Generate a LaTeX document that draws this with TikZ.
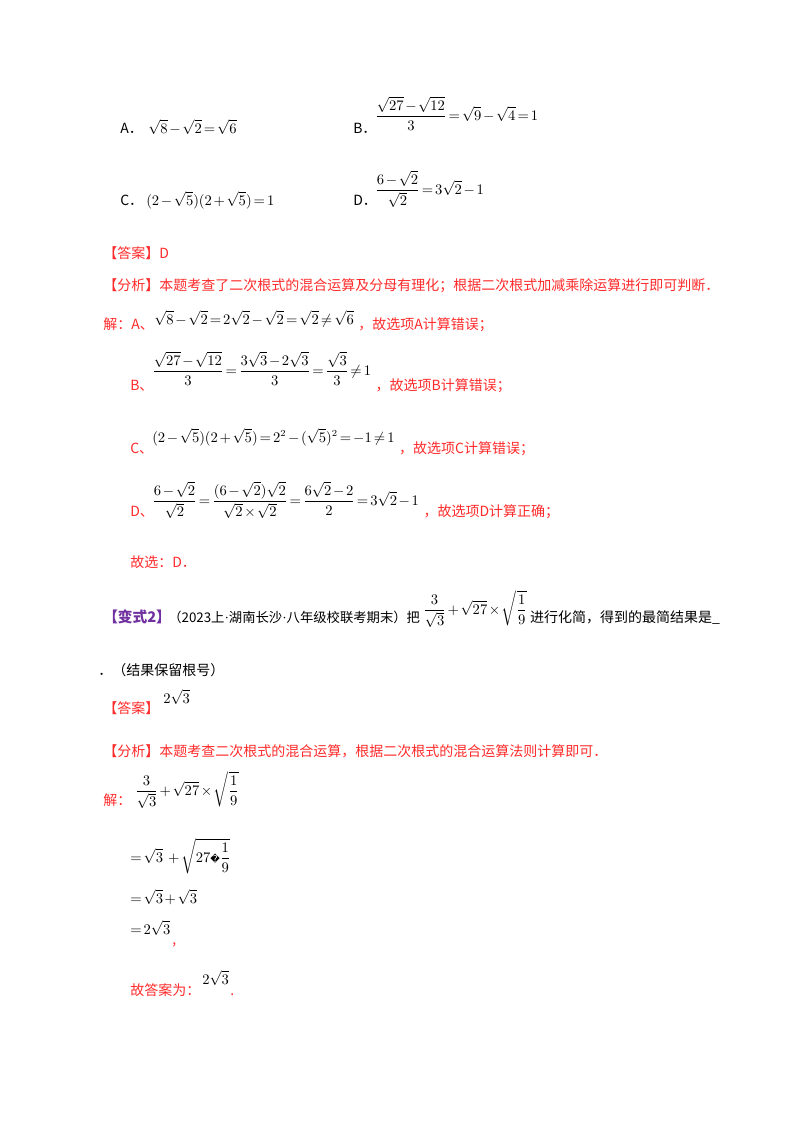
\documentclass[tikz,border=0pt]{standalone}
\usepackage{fontspec}
\setmainfont{Liberation Serif}
\newfontfamily\cjk{Noto Sans CJK SC}
\newfontfamily\dejavu{DejaVu Sans}
\usepackage{amsmath}
\definecolor{rd}{HTML}{FF2A2A}
\definecolor{pu}{HTML}{7030A0}
\medmuskip=2mu \thickmuskip=2.5mu
\begin{document}
\begin{tikzpicture}[x=0.75pt,y=-0.75pt,
  t/.style={anchor=base west,inner sep=0pt,font=\cjk\fontsize{10.5}{12}\selectfont},
  r/.style={t,text=rd},
  m/.style={anchor=base west,inner sep=0pt,font=\fontsize{10.5}{12}\selectfont}]
\useasboundingbox (0,0) rectangle (800,1132);
\node[t] (a) at (120,133) {A．};
\node[m] (am) at (148,133) {$\sqrt8-\sqrt2=\sqrt6$};
\node[t] (b) at (353,133) {B．};
\node[m] (bm) at (375,120) {$\dfrac{\sqrt{27}-\sqrt{12}}{3}=\sqrt9-\sqrt4=1$};
\node[t] (c) at (120,205) {C．};
\node[m] (cm) at (146,205) {$(2-\sqrt5)(2+\sqrt5)=1$};
\node[t] (d) at (353,205) {D．};
\node[m] (dm) at (375,194) {$\dfrac{6-\sqrt2}{\sqrt2}=3\sqrt2-1$};
\node[r] (ans) at (103,258) {【答案】D};
\node[r] (fx) at (103,290) {【分析】本题考查了二次根式的混合运算及分母有理化；根据二次根式加减乘除运算进行即可判断．};
\node[r] (j) at (103,329) {解：A、};
\node[m] (jm) at (154,324) {$\sqrt8-\sqrt2=2\sqrt2-\sqrt2=\sqrt2\ne\sqrt6$};
\node[r] (j2) at ([xshift=3pt]jm.east |- j.base) {，故选项A计算错误；};
\node[r] (bb) at (130,390) {B、};
\node[m] (bbm) at (152,375) {$\dfrac{\sqrt{27}-\sqrt{12}}{3}=\dfrac{3\sqrt3-2\sqrt3}{3}=\dfrac{\sqrt3}{3}\ne1$};
\node[r] (bb2) at ([xshift=3pt]bbm.east |- bb.base) {，故选项B计算错误；};
\node[r] (cc) at (130,453) {C、};
\node[m] (ccm) at (152,442) {$(2-\sqrt5)(2+\sqrt5)=2^2-(\sqrt5)^2=-1\ne1$};
\node[r] (cc2) at ([xshift=3pt]ccm.east |- cc.base) {，故选项C计算错误；};
\node[r] (dd) at (130,516) {D、};
\node[m] (ddm) at (152,505) {$\dfrac{6-\sqrt2}{\sqrt2}=\dfrac{(6-\sqrt2)\sqrt2}{\sqrt2\times\sqrt2}=\dfrac{6\sqrt2-2}{2}=3\sqrt2-1$};
\node[r] (dd2) at ([xshift=3pt]ddm.east |- dd.base) {，故选项D计算正确；};
\node[r] (gx) at (130,567) {故选：D．};
\node[t,text=pu,font=\cjk\bfseries\fontsize{11}{12}\selectfont] (bs) at (103,622) {【变式2】};
\node[t,font=\cjk\fontsize{10}{12}\selectfont] (bs2) at (168,622) {（2023上{\rmfamily·}湖南长沙{\rmfamily·}八年级校联考期末）把};
\node[m] (bsm) at ([xshift=2pt,yshift=6pt]bs2.base east) {$\dfrac{3}{\sqrt3}+\sqrt{27}\times\sqrt{\dfrac19}$};
\node[t] (bs3) at ([xshift=2pt]bsm.east |- bs2.base) {进行化简，得到的最简结果是\_};
\node[t] (bl) at (98,675) {．（结果保留根号）};
\node[r] (ans2) at (103,713) {【答案】};
\node[m] (ans2m) at (163,703) {$2\sqrt3$};
\node[r] (fx2) at (103,756) {【分析】本题考查二次根式的混合运算，根据二次根式的混合运算法则计算即可．};
\node[r] (j3) at (103,805) {解：};
\node[m] (j3m) at (135,795) {$\dfrac{3}{\sqrt3}+\sqrt{27}\times\sqrt{\dfrac19}$};
\node[m] (e1) at (130,862) {$=\sqrt3\ +\sqrt{27\text{\dejavu\fontsize{7}{8}\selectfont\char"FFFD}\dfrac19}$};
\node[m] (e2) at (130,903) {$=\sqrt3+\sqrt3$};
\node[m] (e3) at (130,934) {$=2\sqrt3$};
\node[r] (cm2) at (172,944) {,};
\node[r] (gd) at (130,995) {故答案为：};
\node[m] (gdm) at (202,984) {$2\sqrt3$};
\node[r] (gdp) at (230,995) {.};
\end{tikzpicture}
\end{document}
